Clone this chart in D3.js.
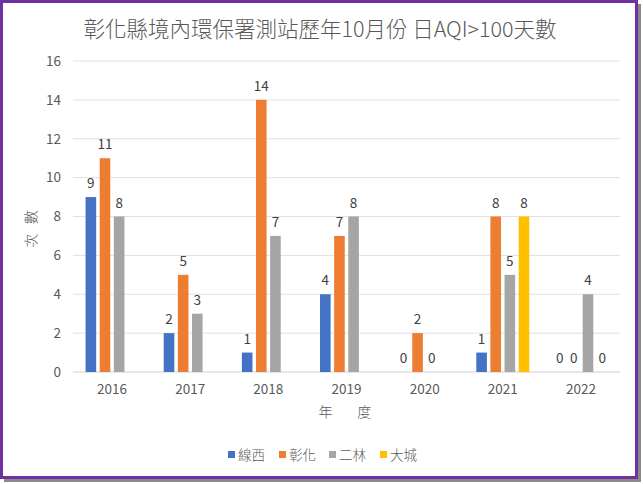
<!DOCTYPE html>
<html><head><meta charset="utf-8">
<script src="https://cdn.jsdelivr.net/npm/d3@7"></script>
<style>
html,body{margin:0;padding:0;background:#fff;}
svg{display:block;}
text{font-family:"Noto Sans CJK TC","Noto Sans",sans-serif;}
</style></head>
<body>
<script>
const years = ["2016","2017","2018","2019","2020","2021","2022"];
const seriesNames = ["線西","彰化","二林","大城"];
const colors = ["#4472C4","#ED7D31","#A5A5A5","#FFC000"];
const xianxi = [9,2,1,4,0,1,0];
const changhua = [11,5,14,7,2,8,0];
const erlin = [8,3,7,8,0,5,4];
const dacheng = [null,null,null,null,null,8,0];
const yTicks = [0,2,4,6,8,10,12,14,16];
const allSeries = [xianxi, changhua, erlin, dacheng];

const W=643,H=484;
const svg=d3.select("body").append("svg").attr("width",W).attr("height",H);
// shadow + border
svg.append("rect").attr("x",4).attr("y",4).attr("width",637).attr("height",478).attr("fill","#8a8a8a");
svg.append("rect").attr("x",1.5).attr("y",1.5).attr("width",635).attr("height",476).attr("fill","#fff").attr("stroke","#7030A0").attr("stroke-width",3);

const L=73,R=620,T=61,B=372;
const x0=d3.scaleBand().domain(years).range([L,R]).padding(0);
const bw=x0.bandwidth();
const x1=d3.scaleBand().domain(seriesNames).range([bw/2-26.5,bw/2+26.5]).paddingInner(0.25);
const y=d3.scaleLinear().domain([0,16]).range([B,T]);

// gridlines
svg.append("g").selectAll("line").data(yTicks).join("line")
 .attr("x1",L).attr("x2",R).attr("y1",d=>y(d)).attr("y2",d=>y(d))
 .attr("stroke",d=>d===0?"#d0d0d0":"#e0e0e0").attr("stroke-width",1);

// y axis labels
const yAxis=d3.axisLeft(y).tickValues(yTicks).tickSize(0).tickPadding(12);
const gy=svg.append("g").attr("transform",`translate(${L},0)`).call(yAxis);
gy.select(".domain").remove();
gy.selectAll("text").attr("font-size",13.5).attr("fill","#595959").attr("font-family","Liberation Sans, sans-serif");

// x axis labels
const xAxis=d3.axisBottom(x0).tickSize(0).tickPadding(12);
const gx=svg.append("g").attr("transform",`translate(0,${B})`).call(xAxis);
gx.select(".domain").remove();
gx.selectAll("text").attr("font-size",13.5).attr("fill","#595959").attr("font-family","Liberation Sans, sans-serif");

// bars
const data=[];
years.forEach((yr,i)=>seriesNames.forEach((s,j)=>{data.push({yr,s,j,v:allSeries[j][i]});}));
const gb=svg.append("g");
gb.selectAll("rect").data(data.filter(d=>d.v!==null && d.v>0)).join("rect")
 .attr("x",d=>x0(d.yr)+x1(d.s)).attr("width",x1.bandwidth())
 .attr("y",d=>y(d.v)).attr("height",d=>y(0)-y(d.v))
 .attr("fill",d=>colors[d.j]);
gb.selectAll("text").data(data.filter(d=>d.v!==null)).join("text")
 .attr("x",d=>x0(d.yr)+x1(d.s)+x1.bandwidth()/2).attr("y",d=>y(d.v)-9)
 .attr("text-anchor","middle").attr("font-size",13.5).attr("fill","#404040")
 .attr("font-family","Liberation Sans, sans-serif").text(d=>d.v);

// title
svg.append("text").attr("x",320).attr("y",37).attr("text-anchor","middle")
 .attr("font-size",21.5).attr("fill","#595959").attr("font-weight",300).text("彰化縣境內環保署測站歷年10月份 日AQI>100天數");

// axis titles
svg.append("text").attr("transform","translate(36,229) rotate(-90)").attr("text-anchor","middle")
 .attr("font-size",14).attr("fill","#595959").attr("font-weight",300).attr("xml:space","preserve").style("white-space","pre").text("次   數");
svg.append("text").attr("x",345).attr("y",417).attr("text-anchor","middle")
 .attr("font-size",14).attr("fill","#595959").attr("font-weight",300).attr("xml:space","preserve").style("white-space","pre").text("年        度");

// legend
const lg=svg.append("g").attr("transform","translate(228,455)");
const lx=[0,51,101,152];
seriesNames.forEach((s,j)=>{
  const g=lg.append("g").attr("transform",`translate(${lx[j]},0)`);
  g.append("rect").attr("x",0).attr("y",-4).attr("width",7).attr("height",7).attr("fill",colors[j]);
  g.append("text").attr("x",10).attr("y",5).attr("font-size",13.5).attr("fill","#595959").attr("font-weight",300).text(s);
});
</script>
</body></html>
